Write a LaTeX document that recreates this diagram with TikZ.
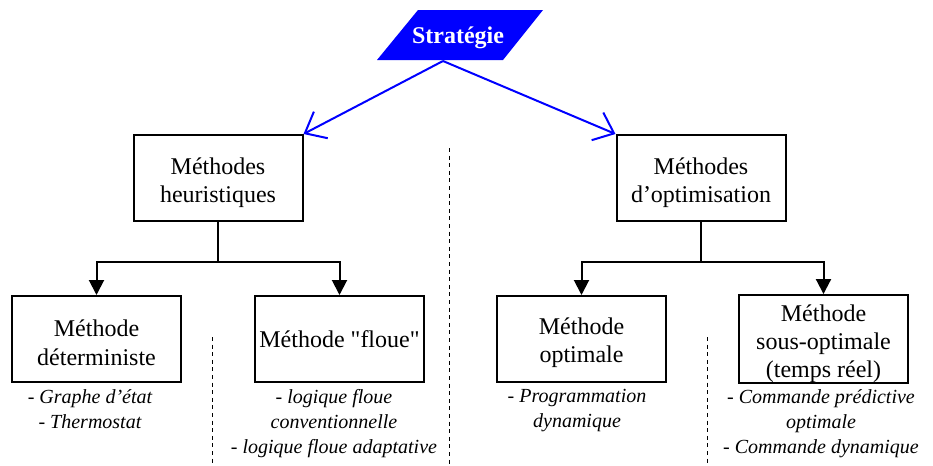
\documentclass[tikz,border=0pt]{standalone}
\usepackage{fontspec}
\setmainfont{Liberation Serif}[Ligatures=TeXOff]
\usetikzlibrary{arrows.meta,calc}
\newcommand{\topstrut}{\rule{0pt}{13pt}}
\newcommand{\smallstrut}{\rule{0pt}{12pt}}
\begin{document}
\begin{tikzpicture}[x=0.5pt,y=-0.5pt,
 box/.style={draw,line width=1pt,minimum width=84.5pt,minimum height=43pt,inner sep=0pt,align=center,font=\fontsize{12}{14.2}\selectfont},
 lst/.style={align=center,inner sep=0pt,anchor=north,font=\fontsize{10}{12.5}\selectfont\itshape},
 down/.style={line width=1pt,-{Triangle[length=7.5pt,width=7.5pt]}},
 conn/.style={line width=1pt},
 blu/.style={blue,line width=1pt,-{Straight Barb[length=9pt,width=15pt]}},
 sepline/.style={line width=0.5pt,dash pattern=on 2pt off 1.8pt}]
\useasboundingbox (0,0) rectangle (933,466);
% strategy parallelogram
\fill[blue] (418,10) -- (543,10) -- (503,60) -- (377,60) -- cycle;
\node[text=white,font=\fontsize{12}{14}\selectfont\bfseries,inner sep=0pt] (strat) at (458,38) {Stratégie};
\coordinate (sb) at (443,61);
% level 1
\node[box] (heur) at (218,178) {\topstrut Méthodes\\heuristiques};
\node[box] (optim) at (701,178) {\topstrut Méthodes\\d’optimisation};
\draw[blu] (sb) -- (heur.north east);
\draw[blu] (sb) -- (optim.north west);
% level 2
\node[box] (det) at (96.5,339) {\smallstrut Méthode\\déterministe};
\node[box] (floue) at (339.5,339) {Méthode "floue"};
\node[box] (opt) at (581.5,339) {\smallstrut Méthode\\optimale};
\node[box] (sous) at (823.5,339) {\topstrut Méthode\\sous-optimale\\(temps réel)};
\coordinate (hj) at (218,262);
\coordinate (oj) at (701,262);
\draw[conn] (heur.south) -- (hj);
\draw[down] (hj) -| (det.north);
\draw[down] (hj) -| (floue.north);
\draw[conn] (optim.south) -- (oj);
\draw[down] (oj) -| (opt.north);
\draw[down] (oj) -| (sous.north);
% lists
\node[lst] (ldet) at (90,389) {- Graphe d’état\\- Thermostat};
\node[lst] (lfl) at (334,389) {- logique floue\\conventionnelle\\- logique floue adaptative};
\node[lst] (lopt) at (577,389) {- Programmation\\dynamique};
\node[lst] (lsous) at (821,389) {- Commande prédictive\\optimale\\- Commande dynamique};
% dashed separators
\draw[sepline] (449,148) -- (449,466);
\draw[sepline] (212,337) -- (212,466);
\draw[sepline] (707,337) -- (707,466);
\end{tikzpicture}
\end{document}
